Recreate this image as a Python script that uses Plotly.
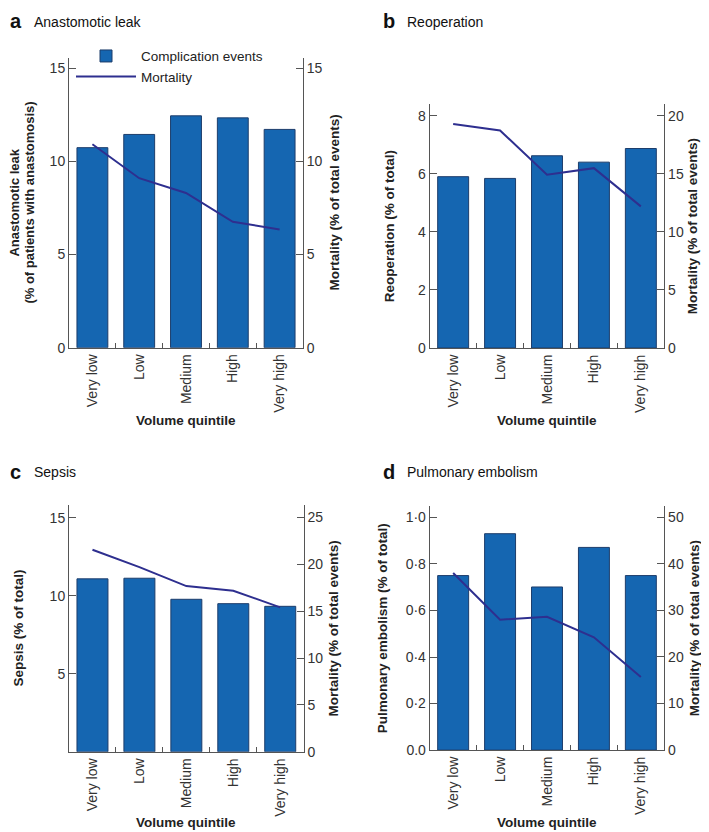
import plotly.graph_objects as go

W, H = 709, 832

categories = ["Very low", "Low", "Medium", "High", "Very high"]

leak_events = [10.74, 11.45, 12.45, 12.34, 11.72]
leak_mortality = [10.92, 9.10, 8.31, 6.76, 6.35]

reop_events = [5.90, 5.84, 6.62, 6.40, 6.87]
reop_mortality = [19.27, 18.72, 14.92, 15.48, 12.19]

sepsis_events = [11.08, 11.12, 9.77, 9.49, 9.32]
sepsis_mortality = [21.54, 19.70, 17.67, 17.18, 15.40]

pe_events = [0.750, 0.930, 0.701, 0.871, 0.750]
pe_mortality = [38.0, 28.0, 28.6, 24.2, 15.7]

pe_tickvals = [0, 0.2, 0.4, 0.6, 0.8, 1.0]
pe_ticktext = ["0.0", "0·2", "0·4", "0·6", "0·8", "1·0"]

BAR_COLOR = "#1566b1"
BAR_EDGE = "#1d3d6b"
LINE_COLOR = "#2e2f8f"
AXIS_COLOR = "#555555"
FONT = "Arial, Liberation Sans, Helvetica, sans-serif"
TICK_FONT = dict(family=FONT, size=14, color="#333333")

# empirical offsets of annotation placement
DX_ROT = -8


def px_x(p):
    return p / W


def px_y(p):
    return 1 - p / H


panels = [
    dict(key="a", title="Anastomotic leak", xd=(61, 295), yd=(50, 343),
         left=(0, 15.58), right=(0, 15.58), ev=leak_events, mort=leak_mortality,
         ltick=[0, 5, 10, 15], rtick=[0, 5, 10, 15],
         ltitle=[("Anastomotic leak", 15), ("(% of patients with anastomosis)", 30)],
         rx=335, tx=0, ty=13, xt_y=418, legend=True),
    dict(key="b", title="Reoperation", xd=(421.7, 656.3), yd=(97.3, 343.3),
         left=(0, 8.39), right=(0, 20.97), ev=reop_events, mort=reop_mortality,
         ltick=[0, 2, 4, 6, 8], rtick=[0, 5, 10, 15, 20],
         ltitle=[("Reoperation (% of total)", 389)],
         rx=692, tx=373, ty=13, xt_y=418, legend=False),
    dict(key="c", title="Sepsis", xd=(61, 295.7), yd=(502, 751),
         left=(0, 15.8), right=(0, 26.3), ev=sepsis_events, mort=sepsis_mortality,
         ltick=[5, 10, 15], rtick=[0, 5, 10, 15, 20, 25],
         ltitle=[("Sepsis (% of total)", 18)],
         rx=333, tx=0, ty=468, xt_y=824, legend=False),
    dict(key="d", title="Pulmonary embolism", xd=(421.7, 656.3), yd=(503.3, 749.3),
         left=(0, 1.047), right=(0, 52.3), ev=pe_events, mort=pe_mortality,
         ltick=pe_tickvals, rtick=[0, 10, 20, 30, 40, 50],
         ltitle=[("Pulmonary embolism (% of total)", 382)],
         rx=694, tx=373, ty=468, xt_y=824, legend=False),
]

fig = go.Figure()
layout = {}
annotations = []

for i, p in enumerate(panels):
    xi = i + 1
    yl = 2 * i + 1
    yr = 2 * i + 2
    xname = "x" if xi == 1 else f"x{xi}"
    ylname = "y" if yl == 1 else f"y{yl}"
    yrname = f"y{yr}"

    fig.add_trace(go.Bar(
        x=categories, y=p["ev"], xaxis=xname, yaxis=ylname,
        width=0.66, marker=dict(color=BAR_COLOR, line=dict(color=BAR_EDGE, width=1)),
        name="Complication events", showlegend=p["legend"],
    ))
    fig.add_trace(go.Scatter(
        x=categories, y=p["mort"], xaxis=xname, yaxis=yrname, mode="lines",
        line=dict(color=LINE_COLOR, width=2),
        name="Mortality", showlegend=p["legend"],
    ))

    xkey = "xaxis" if xi == 1 else f"xaxis{xi}"
    ylkey = "yaxis" if yl == 1 else f"yaxis{yl}"
    yrkey = f"yaxis{yr}"

    layout[xkey] = dict(
        domain=[px_x(p["xd"][0]), px_x(p["xd"][1])], anchor=ylname,
        type="category", range=[-0.5, 4.5], showline=True, linecolor=AXIS_COLOR,
        linewidth=1, ticks="inside", tickson="boundaries", ticklen=5,
        tickcolor=AXIS_COLOR, tickangle=-90, tickfont=TICK_FONT, showgrid=False,
        zeroline=False,
    )
    yl_axis = dict(
        domain=[px_y(p["yd"][1]), px_y(p["yd"][0])], anchor=xname, side="left",
        range=list(p["left"]), tickvals=p["ltick"], showline=True,
        linecolor=AXIS_COLOR, linewidth=1, ticks="inside", ticklen=7,
        tickcolor=AXIS_COLOR, tickfont=TICK_FONT, showgrid=False, zeroline=False,
    )
    if p["key"] == "d":
        yl_axis["ticktext"] = pe_ticktext
    layout[ylkey] = yl_axis
    layout[yrkey] = dict(
        overlaying=ylname, anchor=xname, side="right",
        range=list(p["right"]), tickvals=p["rtick"], showline=True,
        linecolor=AXIS_COLOR, linewidth=1, ticks="inside", ticklen=7,
        tickcolor=AXIS_COLOR, tickfont=TICK_FONT, showgrid=False, zeroline=False,
    )

    ymid = (p["yd"][0] + p["yd"][1]) / 2
    xmid = (p["xd"][0] + p["xd"][1]) / 2
    # panel letter and title
    annotations.append(dict(
        x=px_x(p["tx"]), y=px_y(p["ty"]), xref="paper", yref="paper",
        xanchor="left", yanchor="middle", showarrow=False,
        text=f"<b>{p['key']}</b>",
        font=dict(family=FONT, size=20, color="#111111"),
    ))
    annotations.append(dict(
        x=px_x(p["tx"] + 24), y=px_y(p["ty"] + 1), xref="paper", yref="paper",
        xanchor="left", yanchor="middle", showarrow=False,
        text=p["title"],
        font=dict(family=FONT, size=14, color="#111111"),
    ))
    # left axis title (one annotation per line)
    for txt, lx in p["ltitle"]:
        annotations.append(dict(
            x=px_x(lx + DX_ROT), y=px_y(ymid), xref="paper", yref="paper",
            xanchor="center", yanchor="middle", showarrow=False, textangle=-90,
            text=f"<b>{txt}</b>",
            font=dict(family=FONT, size=13 if len(p["ltitle"]) > 1 else 13.5,
                      color="#222222"),
        ))
    # right axis title
    annotations.append(dict(
        x=px_x(p["rx"] + DX_ROT), y=px_y(ymid), xref="paper", yref="paper",
        xanchor="center", yanchor="middle", showarrow=False, textangle=-90,
        text="<b>Mortality (% of total events)</b>",
        font=dict(family=FONT, size=13.5, color="#222222"),
    ))
    # x axis title
    annotations.append(dict(
        x=px_x(xmid), y=px_y(p["xt_y"] - 2), xref="paper", yref="paper",
        xanchor="center", yanchor="middle", showarrow=False,
        text="<b>Volume quintile</b>",
        font=dict(family=FONT, size=13.5, color="#222222"),
    ))

fig.update_layout(
    width=W, height=H, margin=dict(l=0, r=0, t=0, b=0),
    paper_bgcolor="white", plot_bgcolor="white",
    font=dict(family=FONT, size=13, color="#222222"),
    showlegend=True,
    legend=dict(
        x=px_x(63), y=px_y(33), xanchor="left", yanchor="top",
        bgcolor="rgba(255,255,255,0)", font=dict(family=FONT, size=13.5, color="#222222"),
        tracegroupgap=0, itemwidth=60,
    ),
    annotations=annotations,
    **layout,
)

fig.write_html("out.html")
